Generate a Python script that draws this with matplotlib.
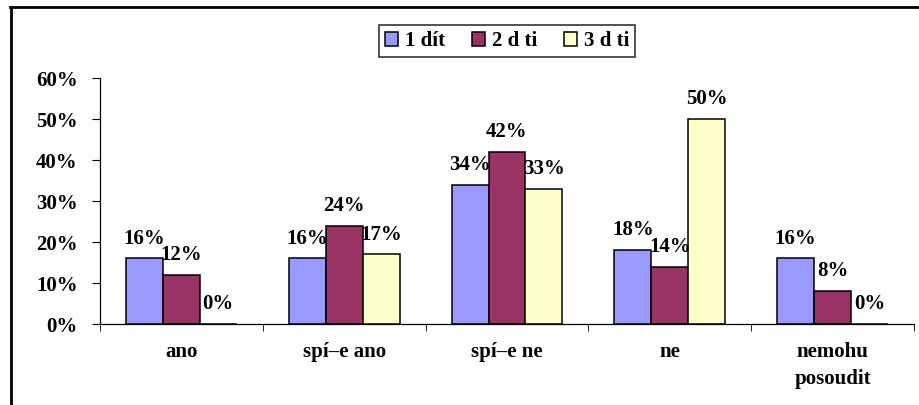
import matplotlib.pyplot as plt
import numpy as np

categories = ["ano", "spí–e ano", "spí–e ne", "ne", "nemohu\nposoudit"]
series_names = ["1 dít", "2 d ti", "3 d ti"]
jedno = [16, 16, 34, 18, 16]
dve = [12, 24, 42, 14, 8]
tri = [0, 17, 33, 50, 0]
colors = ["#9999FF", "#993366", "#FFFFCC"]

plt.rcParams['font.family'] = ['Liberation Serif', 'DejaVu Serif']
plt.rcParams['font.weight'] = 'bold'
fs = 15

fig = plt.figure(figsize=(9.2, 4.05), dpi=100)
ax = fig.add_axes([0.1087, 0.2, 0.8848, 0.607])

x = np.arange(len(categories))
w = 0.227
for i, (vals, name) in enumerate(zip([jedno, dve, tri], series_names)):
    pos = x + (i - 1) * w
    # zero-height bars get no outline, like the original
    lws = [1.1 if v > 0 else 0 for v in vals]
    ax.bar(pos, vals, width=w, color=colors[i], edgecolor='black',
           linewidth=lws, label=name)
    for p, v in zip(pos, vals):
        ax.text(p, v + 2.4, f"{v}%", ha='center', va='bottom',
                fontsize=fs, fontweight='bold')

ax.set_xlim(-0.5, len(categories) - 0.5)
ax.set_ylim(0, 60)
ax.set_yticks(range(0, 61, 10))
ax.set_yticklabels([f"{t}%" for t in range(0, 61, 10)], fontsize=fs,
                   fontweight='bold')
ax.set_xticks(x)
ax.set_xticklabels(categories, fontsize=fs, fontweight='bold',
                   va='top', linespacing=1.45)
ax.set_xticks(np.arange(-0.5, len(categories)), minor=True)
ax.tick_params(axis='x', which='major', length=0, pad=13)
ax.tick_params(axis='x', which='minor', length=5, direction='out')
ax.tick_params(axis='y', length=6, direction='out', pad=10)
for s in ['top', 'right']:
    ax.spines[s].set_visible(False)
ax.spines['left'].set_linewidth(0.9)
ax.spines['bottom'].set_linewidth(0.9)

handles, labels = ax.get_legend_handles_labels()
for h in handles:
    for patch in h.patches:
        patch.set_linewidth(1.1)
leg = fig.legend(handles, labels, loc='center',
                 bbox_to_anchor=(0.551, 0.899), ncol=3,
                 frameon=True, fancybox=False, edgecolor='black',
                 handlelength=0.65, handleheight=0.65,
                 handletextpad=0.3, columnspacing=1.3, borderpad=0.3,
                 prop={'weight': 'bold', 'size': fs})
leg.get_frame().set_linewidth(1.2)

# outer chart frame (left and top edges visible)
fig.add_artist(plt.Line2D([0.012, 0.012], [0, 0.983], color='black', lw=2,
                          transform=fig.transFigure))
fig.add_artist(plt.Line2D([0.011, 1.0], [0.983, 0.983], color='black', lw=2,
                          transform=fig.transFigure))

fig.savefig("out.png", dpi=100)
